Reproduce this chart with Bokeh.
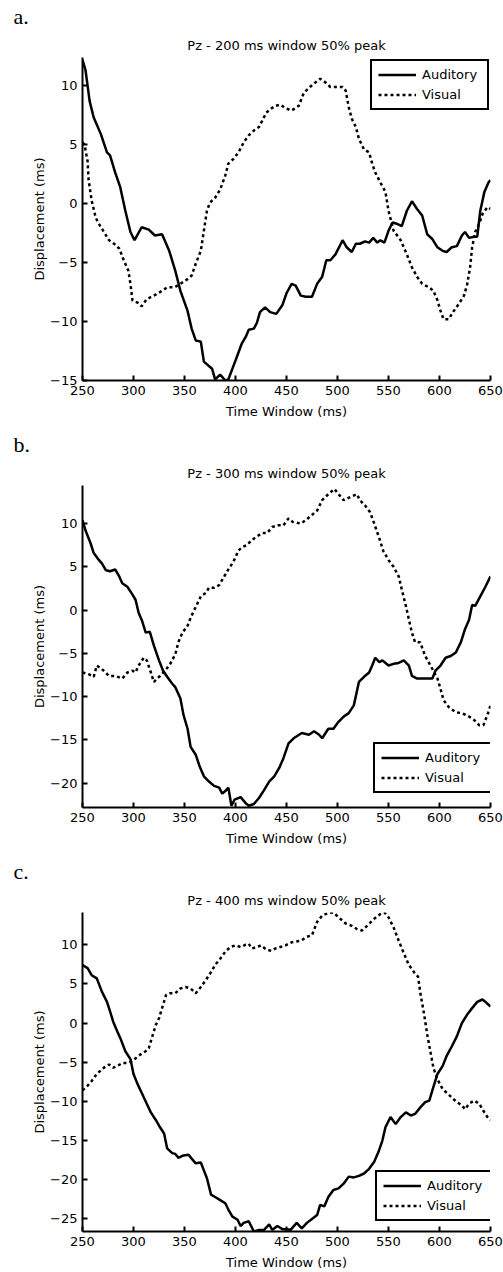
from bokeh.plotting import figure
from bokeh.layouts import column
from bokeh.models import Range1d, FixedTicker, Title
from bokeh.embed import file_html
from bokeh.resources import INLINE

# ---------------- data (time ms, displacement ms) ----------------
x_ticks = [250, 300, 350, 400, 450, 500, 550, 600, 650]

a_auditory = [(250,12.2),(253,11.3),(257,8.7),(261,7.3),(268,5.9),(274,4.35),(277,4.1),(282,2.65),(287,1.4),(292,-0.6),
              (297,-2.4),(301,-3.1),(308,-2.0),(315,-2.2),(321,-2.7),(328,-2.6),(335,-4.0),(341,-5.7),(346,-7.4),(353,-9.1),
              (357,-10.6),(361,-11.6),(366,-11.7),(369,-13.4),(377,-14.0),(380,-14.9),(385,-14.5),(390,-15.0),(393,-14.9),(400,-13.3),
              (406,-11.9),(410,-11.3),(413,-10.7),(418,-10.6),(421,-10.1),(424,-9.2),(429,-8.8),(434,-9.2),(440,-9.35),(446,-8.6),
              (450,-7.6),(455,-6.8),(459,-6.95),(464,-7.8),(469,-7.9),(475,-7.9),(480,-6.8),(485,-6.2),(489,-4.8),(493,-4.8),
              (498,-4.3),(505,-3.1),(509,-3.7),(514,-4.1),(518,-3.4),(522,-3.4),(527,-3.2),(531,-3.3),(535,-2.9),(539,-3.3),
              (542,-3.1),(546,-3.3),(550,-2.3),(554,-1.6),(558,-1.7),(563,-1.9),(568,-0.6),(573,0.2),(578,-0.45),(583,-1.0),
              (588,-2.6),(593,-3.0),(598,-3.7),(603,-4.0),(607,-4.1),(612,-3.7),(617,-3.6),(622,-2.7),(625,-2.4),(629,-2.9),
              (634,-2.8),(637,-2.8),(640,-0.6),(644,1.0),(648,1.8),(650,2.0)]
a_visual = [(250,5.2),(252,5.0),(255,3.6),(256,2.0),(259,0.25),(263,-1.2),(266,-1.7),(271,-2.4),(276,-3.1),(281,-3.4),
            (286,-3.8),(290,-4.7),(295,-5.7),(297,-6.8),(299,-8.2),(304,-8.4),(308,-8.7),(313,-8.1),(320,-7.8),(326,-7.5),
            (333,-7.1),(340,-7.1),(346,-6.8),(353,-6.4),(357,-6.1),(361,-5.1),(366,-4.0),(369,-2.3),(372,-0.6),(375,0.1),
            (380,0.5),(385,1.2),(390,2.4),(393,3.4),(398,3.8),(403,4.35),(408,5.2),(413,5.8),(418,6.2),(423,6.5),
            (426,7.0),(430,7.7),(434,8.0),(439,8.3),(444,8.4),(449,8.1),(455,7.9),(462,8.3),(467,9.4),(473,9.9),
            (480,10.4),(483,10.6),(488,10.3),(493,9.9),(498,9.9),(505,9.9),(508,9.6),(511,8.2),(514,7.2),(518,6.5),
            (521,5.5),(526,4.6),(531,4.35),(534,3.4),(537,2.65),(542,1.8),(547,1.0),(550,-0.6),(555,-2.3),(562,-3.1),
            (568,-4.3),(573,-5.4),(578,-6.2),(583,-6.8),(590,-7.1),(594,-7.4),(598,-8.2),(601,-9.1),(604,-9.8),(609,-9.8),
            (614,-9.1),(619,-8.5),(624,-7.8),(627,-6.9),(630,-5.4),(632,-3.7),(635,-2.4),(639,-1.7),(642,-0.9),(647,-0.3),
            (650,-0.45)]

b_auditory = [(250,10.4),(253,9.2),(258,7.7),(261,6.6),(266,5.8),(269,5.4),(273,4.6),(277,4.5),(282,4.7),(286,3.9),
              (289,3.1),(294,2.7),(299,1.8),(302,1.2),(305,-0.3),(308,-1.1),(312,-2.6),(316,-2.5),(320,-4.1),(325,-5.8),
              (329,-7.0),(333,-7.7),(338,-8.5),(341,-8.9),(346,-10.2),(349,-12.1),(353,-13.7),(356,-15.8),(361,-16.7),(365,-18.1),
              (369,-19.2),(374,-19.8),(379,-20.3),(384,-20.5),(387,-21.2),(390,-20.9),(393,-20.5),(396,-22.6),(399,-21.9),(405,-21.6),
              (410,-22.3),(413,-22.6),(418,-22.4),(423,-21.7),(428,-20.8),(433,-19.8),(438,-19.2),(443,-18.2),(447,-17.1),(452,-15.4),
              (457,-14.8),(465,-14.2),(472,-14.4),(477,-14.0),(482,-14.4),(485,-14.8),(491,-13.7),(496,-13.7),(501,-12.9),(506,-12.3),
              (511,-11.9),(516,-11.0),(521,-8.3),(526,-7.7),(531,-7.2),(534,-6.4),(537,-5.5),(541,-6.0),(544,-5.8),(550,-6.4),
              (555,-6.2),(560,-6.1),(565,-5.8),(570,-6.4),(573,-7.6),(578,-7.9),(583,-7.9),(588,-7.9),(593,-7.9),(596,-7.0),
              (601,-6.4),(606,-5.5),(611,-5.3),(616,-4.9),(621,-3.7),(625,-2.2),(629,-1.1),(632,0.6),(635,0.5),(640,1.6),
              (645,2.7),(650,3.9)]
b_visual = [(250,-7.2),(256,-7.4),(261,-7.7),(264,-6.4),(269,-6.8),(276,-7.6),(282,-7.6),(289,-7.9),(294,-7.2),(299,-7.0),
            (302,-7.2),(305,-6.4),(310,-5.5),(313,-5.8),(317,-7.2),(320,-8.3),(323,-7.9),(326,-7.6),(331,-7.0),(336,-6.2),
            (341,-5.1),(344,-3.7),(348,-2.6),(353,-1.8),(356,-0.9),(359,-0.1),(362,0.6),(366,1.6),(371,2.0),(374,2.6),
            (379,2.6),(384,2.9),(389,3.9),(393,4.7),(398,5.6),(403,6.9),(407,7.3),(411,7.5),(416,8.1),(421,8.5),
            (426,8.9),(431,8.9),(436,9.6),(442,9.8),(447,9.8),(452,10.6),(456,10.2),(464,10.0),(469,10.4),(475,11.0),
            (480,11.5),(485,12.7),(491,13.4),(497,14.0),(501,13.4),(506,12.7),(513,13.1),(519,13.4),(522,12.7),(527,12.1),
            (532,11.3),(536,10.0),(541,8.3),(545,6.8),(550,5.8),(555,5.0),(560,3.9),(563,2.4),(567,0.5),(570,-1.1),
            (573,-2.6),(576,-3.7),(581,-3.7),(586,-5.3),(593,-6.8),(598,-7.9),(601,-9.1),(604,-10.4),(609,-11.2),(616,-11.8),
            (622,-11.9),(629,-12.3),(634,-12.7),(639,-13.3),(643,-13.3),(647,-12.1),(650,-11.0)]

c_auditory = [(250,7.4),(255,7.0),(259,6.1),(264,5.7),(269,4.0),(274,2.7),(277,1.5),(280,0.2),(284,-1.05),(287,-1.9),
              (292,-3.6),(297,-4.6),(300,-6.5),(304,-7.8),(308,-8.9),(313,-10.3),(317,-11.4),(322,-12.4),(326,-13.3),(330,-14.1),
              (333,-16.0),(338,-16.6),(341,-16.7),(344,-17.2),(349,-16.9),(354,-16.8),(357,-17.3),(361,-17.9),(366,-17.8),(369,-18.8),
              (372,-19.8),(376,-21.9),(380,-22.2),(385,-22.6),(390,-23.0),(393,-23.8),(397,-24.7),(402,-25.1),(405,-25.9),(408,-25.5),
              (413,-25.3),(418,-26.6),(423,-26.4),(428,-26.4),(433,-25.7),(436,-26.4),(441,-25.9),(446,-26.3),(451,-26.3),(454,-26.4),
              (460,-25.5),(465,-26.2),(470,-25.5),(475,-25.0),(480,-24.5),(483,-23.2),(487,-23.4),(491,-22.2),(496,-21.3),(501,-21.1),
              (506,-20.5),(511,-19.6),(516,-19.7),(521,-19.5),(526,-19.2),(531,-18.6),(536,-17.7),(540,-16.5),(544,-15.0),(547,-13.3),
              (552,-12.0),(557,-12.9),(562,-12.0),(567,-11.4),(572,-11.8),(576,-11.6),(581,-10.8),(586,-10.1),(590,-9.9),(593,-8.6),
              (598,-6.5),(603,-5.5),(607,-4.2),(612,-3.0),(617,-1.7),(622,0.0),(627,1.05),(632,1.9),(637,2.7),(642,3.0),
              (645,2.7),(650,2.1)]
c_visual = [(250,-8.6),(255,-8.0),(259,-7.4),(264,-6.5),(271,-5.7),(276,-5.3),(280,-5.7),(284,-5.5),(289,-5.1),(294,-5.1),
            (299,-4.85),(302,-4.5),(307,-4.0),(312,-3.6),(315,-3.2),(318,-1.9),(322,-0.2),(325,0.6),(328,1.9),(332,3.6),
            (336,3.8),(341,3.8),(346,4.4),(351,4.6),(356,4.4),(361,3.8),(366,4.6),(371,5.5),(376,6.5),(380,7.4),
            (385,8.2),(390,9.1),(395,9.7),(400,9.9),(405,9.7),(410,10.0),(413,10.1),(416,9.5),(421,9.7),(425,9.9),
            (430,9.4),(435,9.2),(439,9.5),(444,9.7),(449,9.9),(455,10.3),(464,10.5),(470,11.0),(475,11.2),(480,12.9),
            (485,13.7),(491,14.05),(496,14.1),(501,13.5),(508,12.7),(514,12.4),(519,12.0),(524,11.8),(529,12.4),(536,13.3),
            (542,13.9),(546,14.1),(550,13.5),(555,12.2),(560,10.5),(565,8.9),(570,7.4),(575,6.5),(579,5.9),(581,4.0),
            (585,1.05),(588,-1.5),(591,-3.6),(594,-5.7),(598,-7.2),(603,-8.4),(607,-8.9),(612,-9.5),(617,-10.1),(622,-10.5),
            (625,-11.0),(629,-10.3),(634,-9.9),(639,-10.3),(643,-11.2),(647,-12.0),(650,-12.4)]

a_yrange = (-15.0, 12.4)
b_yrange = (-22.8, 14.4)
c_yrange = (-26.6, 14.1)
a_yticks = [-15, -10, -5, 0, 5, 10]
b_yticks = [-20, -15, -10, -5, 0, 5, 10]
c_yticks = [-25, -20, -15, -10, -5, 0, 5, 10]

titles = ["Pz - 200 ms window 50% peak", "Pz - 300 ms window 50% peak", "Pz - 400 ms window 50% peak"]
letters = ["a.", "b.", "c."]

SANS = "DejaVu Sans"
SERIF = "Liberation Serif"
W = 503
BL, BR, BT = 82, 13, 57


def panel(letter, title, aud, vis, yr, yticks, height, bottom, legend_xy):
    p = figure(width=W, height=height, x_range=Range1d(250, 650), y_range=Range1d(*yr),
               output_backend="svg", toolbar_location=None, title=None,
               min_border_left=BL, min_border_right=BR, min_border_top=BT, min_border_bottom=bottom)
    p.outline_line_color = None
    p.grid.visible = False
    p.background_fill_color = "white"
    p.border_fill_color = "white"

    at, av = zip(*aud)
    vt, vv = zip(*vis)
    p.line(list(at), list(av), line_color="black", line_width=2.5, legend_label="Auditory")
    p.line(list(vt), list(vv), line_color="black", line_width=2.5, line_dash="3 3", legend_label="Visual")

    for ax in (p.xaxis[0], p.yaxis[0]):
        ax.axis_line_width = 2
        ax.axis_line_color = "black"
        ax.major_tick_line_width = 2
        ax.major_tick_in = 5
        ax.major_tick_out = 0
        ax.minor_tick_line_color = None
        ax.major_label_text_font = SANS
        ax.major_label_text_font_size = "13px"
        ax.major_label_text_color = "black"
        ax.axis_label_text_font = SANS
        ax.axis_label_text_font_size = "13px"
        ax.axis_label_text_font_style = "normal"
        ax.axis_label_text_color = "black"
        ax.major_label_standoff = 5
    p.xaxis.axis_label_standoff = 6
    p.yaxis.axis_label_standoff = 0
    p.xaxis.ticker = FixedTicker(ticks=x_ticks)
    p.yaxis.ticker = FixedTicker(ticks=yticks)
    p.xaxis.axis_label = "Time Window (ms)"
    p.yaxis.axis_label = "Displacement (ms)"

    p.add_layout(Title(text=title, align="center", vertical_align="top", text_font=SANS, text_font_size="13px",
                       text_font_style="normal", text_color="black", standoff=6), "above")
    p.add_layout(Title(text=letter, align="left", vertical_align="top", offset=-69, text_font=SERIF,
                       text_font_size="22px", text_font_style="normal", text_color="black", standoff=7), "above")

    lg = p.legend[0]
    lg.location = legend_xy
    lg.border_line_color = "black"
    lg.border_line_alpha = 1
    lg.border_line_width = 2
    lg.background_fill_color = "white"
    lg.background_fill_alpha = 1
    lg.label_text_font = SANS
    lg.label_text_font_size = "13px"
    lg.label_text_color = "black"
    lg.glyph_width = 38
    lg.glyph_height = 15
    lg.label_height = 15
    lg.label_width = 59
    lg.label_standoff = 6
    lg.spacing = 5
    lg.padding = 6
    lg.margin = 0
    return p


pa = panel(letters[0], titles[0], a_auditory, a_visual, a_yrange, a_yticks, 428, 48, (288, 270))
pb = panel(letters[1], titles[1], b_auditory, b_visual, b_yrange, b_yticks, 427, 48, (291, 14))
pc = panel(letters[2], titles[2], c_auditory, c_visual, c_yrange, c_yticks, 417, 39, (293, 10))

layout = column(pa, pb, pc, spacing=0)
open("out.html", "w").write(file_html(layout, INLINE))
